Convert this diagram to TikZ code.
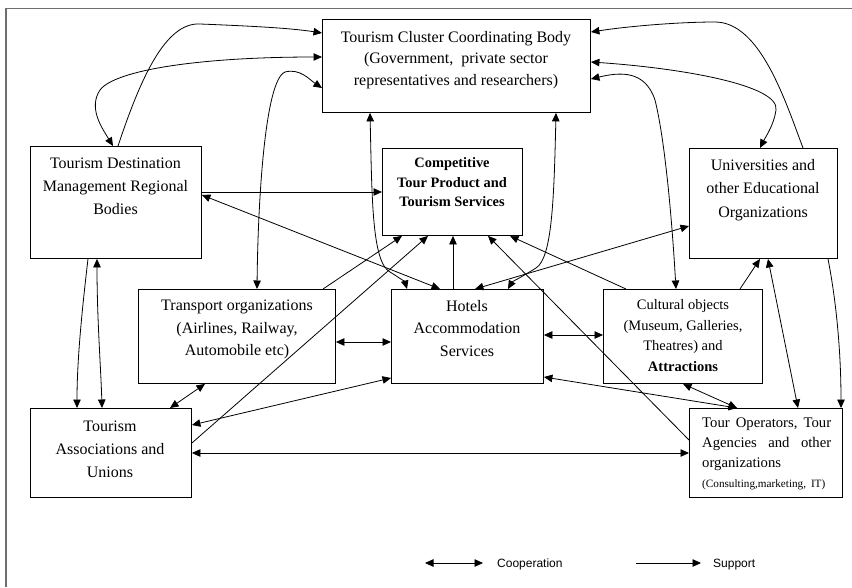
\documentclass[tikz,border=0pt]{standalone}
\usepackage{fontspec}
\setmainfont{Liberation Serif}
\newfontfamily\legfont{Liberation Sans}
\usetikzlibrary{arrows.meta,calc}
\definecolor{framegray}{RGB}{110,110,110}
\begin{document}
\begin{tikzpicture}[x=1pt,y=-1pt,
  box/.style={draw=black,line width=0.9pt,fill=white,inner sep=0pt,anchor=north west},
  txt/.style={inner sep=0pt,anchor=north,align=center,font=\fontsize{16}{22.5}\selectfont},
  con/.style={line width=0.8pt,-{Triangle[length=8.5pt,width=7.5pt]}},
  coop/.style={line width=0.8pt,{Triangle[length=8.5pt,width=7.5pt]}-{Triangle[length=8.5pt,width=7.5pt]}},
  leg/.style={inner sep=0pt,font=\legfont\fontsize{12}{14}\selectfont},
  frame/.style={draw=framegray,line width=1.3pt}
]
\useasboundingbox (0,0) rectangle (852,587);
% frame
\coordinate (f0) at (6,8.5);
\coordinate (f1) at (852,8.5);
\coordinate (f2) at (6,587);
\draw[frame] (f1) -- (f0) -- (f2);

% boxes
\node[box,minimum width=268pt,minimum height=93pt] (clu) at (322,19) {};
\node[box,minimum width=171pt,minimum height=112pt] (tdm) at (30,146) {};
\node[box,minimum width=140pt,minimum height=87pt] (cmp) at (382,148) {};
\node[box,minimum width=148pt,minimum height=110pt] (uni) at (689,148) {};
\node[box,minimum width=197pt,minimum height=94pt] (trn) at (138,289) {};
\node[box,minimum width=152pt,minimum height=94pt] (hot) at (391,289) {};
\node[box,minimum width=159pt,minimum height=94pt] (cul) at (603,289) {};
\node[box,minimum width=161pt,minimum height=89pt] (tas) at (30,408) {};
\node[box,minimum width=153pt,minimum height=89pt] (top) at (689,408) {};

% texts
\node[txt,font=\fontsize{16}{21.5}\selectfont] (clu-t) at (456,31) {Tourism Cluster Coordinating Body\\(Government, \ private sector\\representatives and researchers)};
\node[txt,font=\fontsize{16}{23}\selectfont] (tdm-t) at (115.5,158) {Tourism Destination\\Management Regional\\Bodies};
\node[txt,font=\bfseries\fontsize{14.4}{19.5}\selectfont] (cmp-t) at (452,157.5) {Competitive\\Tour Product and\\Tourism Services};
\node[txt,font=\fontsize{16}{23.5}\selectfont] (uni-t) at (763,159) {Universities and\\other Educational\\Organizations};
\node[txt] (trn-t) at (237,300) {Transport organizations\\(Airlines, Railway,\\Automobile etc)};
\node[txt] (hot-t) at (467,300) {Hotels\\Accommodation\\Services};
\node[txt,font=\fontsize{14.5}{20.5}\selectfont] (cul-t) at (683,299.5) {Cultural objects\\(Museum, Galleries,\\Theatres) and\\\textbf{Attractions}};
\node[txt,font=\fontsize{16}{23}\selectfont] (tas-t) at (110,421) {Tourism\\Associations and\\Unions};
\node[inner sep=0pt,anchor=north west,text width=130pt,align=left,font=\fontsize{14.7}{20}\selectfont] (top-t) at (702,418)
  {\makebox[129pt][s]{Tour\hfill Operators,\hfill Tour}\\\makebox[129pt][s]{Agencies\hfill and\hfill other}\\organizations\\{\fontsize{11.2}{12}\selectfont (Consulting,marketing, IT)}};

% connectors
\draw[coop] ($(tdm.north west)+(83,0)$) .. controls (102,128) and (88,108) .. (100,90) .. controls (115,70) and (200,57) .. ($(clu.north west)+(0,38)$);
\draw[con] ($(tdm.north west)+(88,0)$) .. controls (140,80) and (165,22) .. (200,24) .. controls (250,26) and (290,28) .. ($(clu.north west)+(0,14)$);
\draw[coop] ($(trn.north west)+(119,0)$) .. controls (258,200) and (265,80) .. (285,72) .. controls (300,68) and (310,80) .. ($(clu.north west)+(0,69)$);
\draw[con] ($(uni.north west)+(114,0)$) .. controls (785,100) and (760,22) .. (715,22) .. controls (680,22) and (630,26) .. ($(clu.north east)+(0,13)$);
\draw[coop] ($(clu.north east)+(0,43)$) .. controls (680,68) and (780,85) .. (776,110) .. controls (774,125) and (765,138) .. ($(uni.north west)+(71,0)$);
\draw[coop] ($(clu.north east)+(0,60)$) .. controls (620,72) and (645,70) .. (655,100) .. controls (665,140) and (672,220) .. ($(cul.north west)+(73,0)$);
\draw[coop] ($(clu.south west)+(48,0)$) .. controls (372,200) and (372,262) .. (390,272) .. controls (398,277) and (405,282) .. ($(hot.north west)+(16,0)$);
\draw[coop] ($(clu.south west)+(234,0)$) .. controls (554,200) and (552,258) .. (536,268) .. controls (525,275) and (512,282) .. ($(hot.north west)+(117,0)$);
\draw[con] ($(tdm.north east)+(0,46)$) -- ($(cmp.north west)+(0,44)$);
\draw[coop] ($(tdm.north east)+(0,49)$) -- ($(hot.north west)+(49,0)$);
\draw[con] ($(trn.north west)+(185,0)$) -- ($(cmp.south west)+(20,0)$);
\draw[con] ($(tas.north east)+(0,35)$) -- ($(cmp.south west)+(46,0)$);
\draw[con] ($(hot.north west)+(62,0)$) -- ($(cmp.south west)+(71,0)$);
\draw[con] ($(top.north west)+(0,32)$) -- ($(cmp.south west)+(106,0)$);
\draw[con] ($(cul.north west)+(23,0)$) -- ($(cmp.south west)+(128,0)$);
\draw[coop] ($(uni.north west)+(0,78)$) -- ($(hot.north west)+(84,0)$);
\draw[con] ($(cul.north west)+(137,0)$) -- ($(uni.south west)+(71,0)$);
\draw[coop] ($(uni.south west)+(79,0)$) -- ($(top.north west)+(109,0)$);
\draw[con] ($(uni.south west)+(139,0)$) .. controls (836,300) and (841,350) .. ($(top.north west)+(152,0)$);
\draw[coop] ($(trn.north east)+(0,53)$) -- ($(hot.north west)+(0,53)$);
\draw[coop] ($(hot.north east)+(0,46)$) -- ($(cul.north west)+(0,46)$);
\draw[coop] ($(trn.south west)+(67,0)$) -- ($(tas.north west)+(140,0)$);
\draw[coop] ($(hot.north west)+(0,89)$) -- ($(tas.north east)+(0,17)$);
\draw[coop] ($(tas.north east)+(0,45)$) -- ($(top.north west)+(0,45)$);
\draw[coop] ($(hot.north east)+(0,88)$) -- ($(top.north west)+(48,0)$);
\draw[coop] ($(cul.south west)+(80,0)$) -- ($(top.north west)+(48,0)$);
\draw[con] ($(tdm.south west)+(58,0)$) .. controls (82,310) and (77,360) .. ($(tas.north west)+(47,0)$);
\draw[coop] ($(tdm.south west)+(67,0)$) .. controls (97,320) and (101,370) .. ($(tas.north west)+(72,0)$);

% legend
\coordinate (l1) at (425,563);
\coordinate (l2) at (483,563);
\draw[coop] (l1) -- (l2);
\node[leg,anchor=base west] (lc) at (497,567.5) {Cooperation};
\coordinate (l3) at (636,563);
\coordinate (l4) at (701,563);
\draw[con] (l3) -- (l4);
\node[leg,anchor=base west] (ls) at (713,567.5) {Support};
\end{tikzpicture}
\end{document}
